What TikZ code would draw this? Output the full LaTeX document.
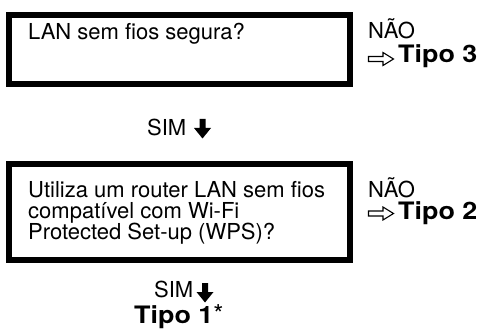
\documentclass[tikz,border=0pt]{standalone}
\usepackage{fontspec}
\setmainfont{TeX Gyre Heros}
\newcommand{\wideb}[1]{\scalebox{1.12}[1]{#1}}
\tikzset{
  qbox/.style={draw=black, line width=5.5pt, rectangle, inner sep=0pt},
  txt/.style={anchor=base west, inner sep=0pt, font=\fontsize{22}{21.5}\selectfont},
  bold/.style={anchor=base west, inner sep=0pt, font=\fontsize{24}{24}\selectfont\bfseries},
  downarrow/.style={fill=black},
  openarrow/.style={draw=black, line width=1.1pt, line join=miter},
}
\begin{document}
\begin{tikzpicture}[x=1pt,y=-1pt]
\useasboundingbox (0,0) rectangle (483,329);
% boxes
\node[qbox, minimum width=341pt, minimum height=69pt] (q1) at (179.5,49.5) {};
\node[qbox, minimum width=341pt, minimum height=96pt] (q2) at (179.5,212) {};
% question texts
\node[txt] (t1) at (28,40) {LAN sem fios segura?};
\node[txt] (t2a) at (28,197) {Utiliza um router LAN sem fios};
\node[txt] (t2b) at (28,218.5) {compatível com Wi-Fi};
\node[txt] (t2c) at (28,240) {Protected Set-up (WPS)?};
% NO branches
\node[txt] (n1) at (368,39) {NÃO};
\node[bold] (r3) at (398,63) {\wideb{Tipo 3}};
\node[txt] (n2) at (368,197) {NÃO};
\node[bold] (r2) at (398,220) {\wideb{Tipo 2}};
% open arrows
\draw[openarrow] (368.5,56.5) -- (383,56.5) -- (383,52.5) -- (393.5,59) -- (383,65.5) -- (383,61.5) -- (368.5,61.5) -- cycle;
\draw[openarrow] (368.5,211) -- (383,211) -- (383,207) -- (393.5,213.5) -- (383,220) -- (383,216) -- (368.5,216) -- cycle;
% YES branches
\node[txt] (s1) at (147,136) {SIM};
\fill[downarrow] (199.5,119) -- (205.5,119) -- (205.5,128) -- (211,128) -- (202.5,138.5) -- (194,128) -- (199.5,128) -- cycle;
\node[txt] (s2) at (154,298) {SIM};
\fill[downarrow] (202,283) -- (208,283) -- (208,292) -- (213.5,292) -- (205,302.5) -- (196.5,292) -- (202,292) -- cycle;
\node[bold] (r1) at (134,323.5) {\wideb{Tipo 1}{\mdseries\fontsize{26}{26}\selectfont*}};
\end{tikzpicture}
\end{document}
